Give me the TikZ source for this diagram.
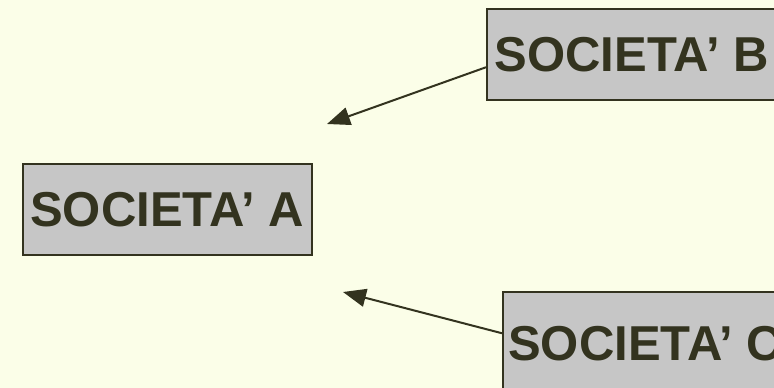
\documentclass[tikz,border=0pt]{standalone}
\usepackage{fontspec}
\setmainfont{Liberation Sans}
\usetikzlibrary{arrows.meta}
\definecolor{sfondo}{RGB}{251,254,232}
\definecolor{grigio}{RGB}{198,198,198}
\definecolor{scuro}{RGB}{51,51,31}
\begin{document}
\begin{tikzpicture}[x=1pt,y=-1pt,
    societa/.style={draw=scuro,line width=1.5pt,fill=grigio,text=scuro,anchor=north west,
        inner sep=0pt,font=\fontsize{49}{58}\selectfont\bfseries},
    freccia/.style={draw=scuro,line width=2pt,-{Triangle[length=23pt,width=18pt]}}]
            \fill [sfondo] (0,0) rectangle (774,388);
            \useasboundingbox (0,0) rectangle (774,388);
            \clip (0,0) rectangle (774,388);
            % le tre societa
            \node [societa,minimum width=289pt,minimum height=91pt] (A) at (22,163) {SOCIETA’ A};
            \node [societa,minimum width=290pt,minimum height=91pt] (B) at (486,8) {SOCIETA’ B};
            \node [societa,minimum width=285pt,minimum height=103pt] (C) at (502,291) {SOCIETA’ C};
            \coordinate (pB) at (327,124);
            \coordinate (pC) at (343,292);
            \draw [freccia] ([yshift=-13pt]B.west) -- (pB);
            \draw [freccia] ([yshift=10pt]C.west) -- (pC);
        \end{tikzpicture}
\end{document}
